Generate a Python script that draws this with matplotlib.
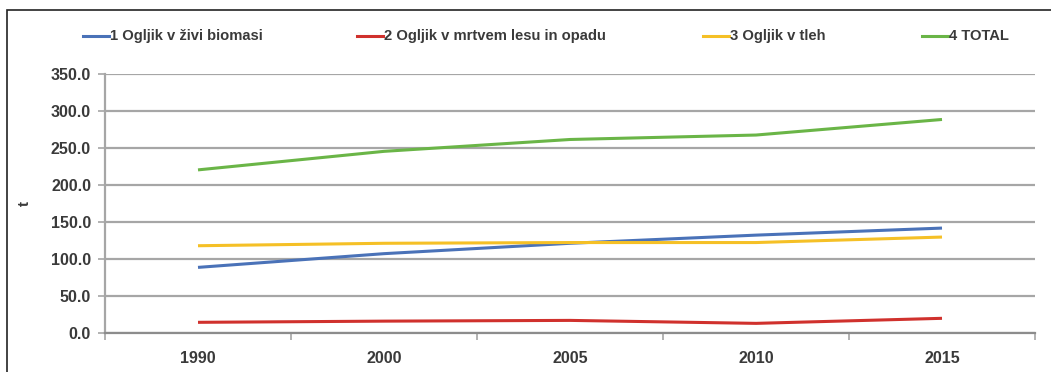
import matplotlib.pyplot as plt
from matplotlib.patches import Rectangle

years = ["1990", "2000", "2005", "2010", "2015"]
live_biomass = [88.5, 107.0, 121.0, 132.0, 141.5]
dead_wood_litter = [14.4, 16.0, 17.0, 13.0, 19.8]
soil = [117.7, 121.0, 122.0, 122.0, 129.4]
total = [220.0, 245.0, 261.0, 267.0, 288.0]

series_names = ["1 Ogljik v živi biomasi", "2 Ogljik v mrtvem lesu in opadu",
                "3 Ogljik v tleh", "4 TOTAL"]
series_colors = ["#4a72b8", "#d0312d", "#f5c026", "#6ab547"]
yticks = [0, 50, 100, 150, 200, 250, 300, 350]

plt.rcParams['font.family'] = ['Liberation Sans', 'DejaVu Sans']

W, H = 1051, 372
fig = plt.figure(figsize=(W / 100, H / 100), dpi=100)
ax = fig.add_axes([105 / W, 1 - 333 / H, (1035 - 105) / W, (333 - 73.5) / H])

x = list(range(len(years)))
for vals, name, col in zip([live_biomass, dead_wood_litter, soil, total],
                           series_names, series_colors):
    ax.plot(x, vals, color=col, lw=2.2, label=name, solid_capstyle='butt')

ax.set_xlim(-0.5, len(years) - 0.5)
ax.set_ylim(0, 350)
ax.set_yticks(yticks)
ax.set_yticklabels([f"{v:.1f}" for v in yticks])
ax.set_xticks(x)
ax.set_xticklabels(years)
ax.set_xticks([i - 0.5 for i in range(len(years) + 1)], minor=True)

ax.grid(axis='y', color='#a6a6a6', lw=1.6)
ax.set_axisbelow(True)
for s in ['top', 'right']:
    ax.spines[s].set_visible(False)
ax.spines['left'].set_color('#a6a6a6')
ax.spines['left'].set_linewidth(1.6)
ax.spines['bottom'].set_color('#8c8c8c')
ax.spines['bottom'].set_linewidth(1.6)
ax.tick_params(axis='x', which='major', length=0, pad=13, labelsize=11.5,
               labelcolor='#3a3a3a')
ax.tick_params(axis='x', which='minor', length=5, color='#a6a6a6', width=1.2,
               direction='out')
ax.tick_params(axis='y', length=5, color='#a6a6a6', width=1.2, labelsize=11.5,
               labelcolor='#3a3a3a', pad=5)
for lbl in ax.get_xticklabels() + ax.get_yticklabels():
    lbl.set_fontweight('bold')

ax.set_ylabel("t", fontsize=11, fontweight='bold', color='#3a3a3a',
              rotation=90, labelpad=14)

# legend row across the top
leg_x = [83, 357, 703, 922]
fy = 1 - 36 / H
for name, col, lx in zip(series_names, series_colors, leg_x):
    fx = lx / W
    fig.add_artist(plt.Line2D([fx, fx + 26 / W], [fy, fy], color=col, lw=2.2,
                              transform=fig.transFigure))
    fig.text(fx + 27 / W, fy, name, fontsize=10.6, fontweight='bold',
             color='#3a3a3a', va='center', ha='left')

fig.add_artist(Rectangle((7 / W, -0.1), 1.2, 1 - 10 / H + 0.1,
                         transform=fig.transFigure, fill=False,
                         edgecolor='#222222', lw=1.2))

fig.savefig("out.png", dpi=100)
